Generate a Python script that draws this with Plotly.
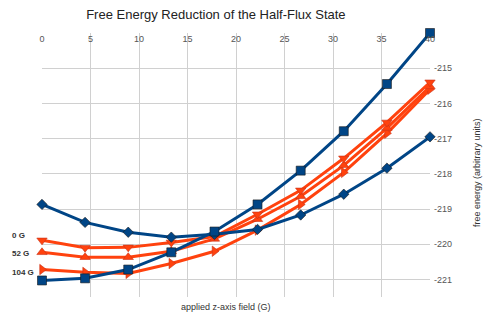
import plotly.graph_objects as go

field = [0, 4.44, 8.89, 13.33, 17.78, 22.22, 26.67, 31.11, 35.56, 40]

blue_square = [-221.03, -220.97, -220.72, -220.23, -219.64, -218.87, -217.91, -216.79, -215.45, -214.0]
blue_diamond = [-218.87, -219.38, -219.66, -219.80, -219.72, -219.58, -219.17, -218.58, -217.84, -216.95]
orange_0G = [-219.89, -220.10, -220.09, -219.95, -219.78, -219.15, -218.47, -217.56, -216.54, -215.40]
orange_52G = [-220.23, -220.37, -220.37, -220.20, -219.85, -219.29, -218.64, -217.76, -216.70, -215.52]
orange_104G = [-220.72, -220.80, -220.83, -220.55, -220.20, -219.60, -218.87, -217.96, -216.85, -215.60]

x_ticks = [0, 5, 10, 15, 20, 25, 30, 35, 40]
y_ticks = [-221, -220, -219, -218, -217, -216, -215, -214]
y_tick_text = ["-221", "-220", "-219", "-218", "-217", "-216", "-215", ""]

BLUE = "#004586"
ORANGE = "#ff420e"

fig = go.Figure()

def add(ys, color, symbol, size, name):
    fig.add_trace(go.Scatter(
        x=field, y=ys, mode="lines+markers", name=name,
        line=dict(color=color, width=3),
        marker=dict(symbol=symbol, size=size, color=color,
                    line=dict(color="#1a1a1a" if color == BLUE else "#c8321a", width=0.6)),
        cliponaxis=False,
    ))

add(orange_104G, ORANGE, "triangle-right", 9, "104 G")
add(orange_52G, ORANGE, "triangle-up", 9, "52 G")
add(orange_0G, ORANGE, "triangle-down", 9, "0 G")
add(blue_diamond, BLUE, "diamond", 8, "diamond")
add(blue_square, BLUE, "square", 9, "square")

fig.update_layout(
    width=484, height=320,
    margin=dict(l=42, r=54, t=33, b=23),
    paper_bgcolor="white", plot_bgcolor="white",
    showlegend=False,
    font=dict(family="Liberation Sans, Arial, sans-serif", size=9, color="#333333"),
    title=dict(text="Free Energy Reduction of the Half-Flux State",
               x=0.446, xanchor="center", y=1 - 14 / 320, yanchor="middle",
               font=dict(size=13, color="#222222")),
    xaxis=dict(range=[0, 40], side="top", tickvals=x_ticks,
               ticklabelposition="inside", ticklabeloverflow="allow",
               showgrid=True, gridcolor="#d0d0d0",
               gridwidth=1, zeroline=False, showline=False, ticks="",
               tickfont=dict(size=9, color="#555555")),
    yaxis=dict(range=[-221.5, -214], side="right", tickvals=y_ticks,
               ticktext=y_tick_text, showgrid=True, gridcolor="#d0d0d0",
               gridwidth=1, zeroline=False, showline=False, ticks="",
               ticklabelstandoff=3,
               tickfont=dict(size=9, color="#555555")),
)

fig.add_annotation(text="applied z-axis field (G)", xref="paper", yref="paper",
                   x=0.474, y=-0.038, xanchor="center", yanchor="middle",
                   showarrow=False, font=dict(size=9, color="#333333"))
fig.add_annotation(text="free energy (arbitrary units)", xref="paper", yref="paper",
                   x=1.121, y=0.473, xanchor="center", yanchor="middle",
                   textangle=-90, showarrow=False, font=dict(size=9, color="#333333"))

for label, yp in [("0 G", 235), ("52 G", 253), ("104 G", 272)]:
    fig.add_annotation(text="<b>" + label + "</b>", xref="paper", yref="paper",
                       x=(10 - 42) / 388, y=(297 - yp) / 264,
                       xanchor="left", yanchor="middle", showarrow=False,
                       font=dict(size=8, color="#333333"))

fig.write_html("out.html")
